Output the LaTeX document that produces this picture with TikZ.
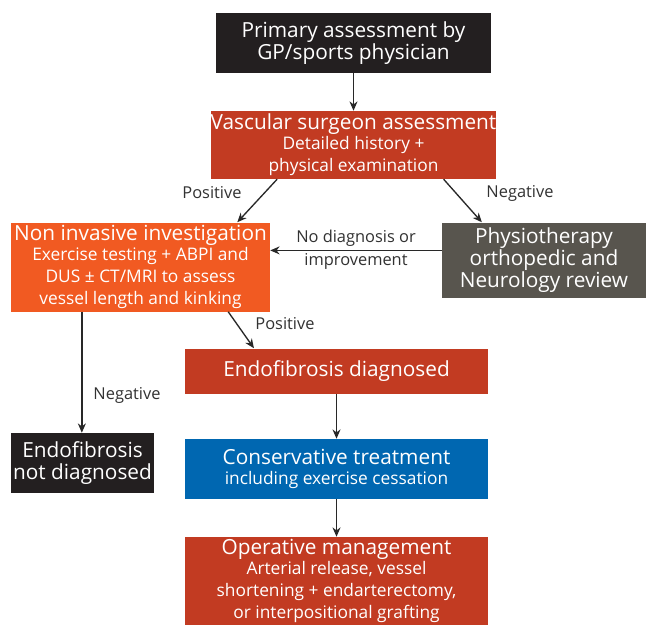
\documentclass[tikz,border=0pt]{standalone}
\usepackage{fontspec}
\setmainfont{Open Sans}
\usetikzlibrary{arrows.meta,calc}
\definecolor{boxblack}{RGB}{35,31,32}
\definecolor{boxred}{RGB}{194,59,34}
\definecolor{boxorange}{RGB}{241,90,34}
\definecolor{boxgray}{RGB}{88,85,78}
\definecolor{boxblue}{RGB}{0,103,177}
\definecolor{linegray}{RGB}{40,40,40}
\definecolor{labelgray}{RGB}{50,50,50}
\newcommand\TitleF{\fontsize{15.6}{16.5}\selectfont}
\newcommand\SubF{\fontsize{13}{13.5}\selectfont}
\newcommand\LabF{\fontsize{12.3}{17}\selectfont}
\begin{document}
\begin{tikzpicture}[x=0.75pt,y=-0.75pt,
  box/.style={rectangle, inner sep=0pt, align=center, text=white, font=\TitleF},
  conn/.style={draw=linegray, line width=1pt, -{Stealth[length=7pt,width=6pt]}},
  lab/.style={text=labelgray, font=\LabF, align=center, inner sep=0pt}]
\clip (0,0) rectangle (655,624);
\fill[white] (0,0) rectangle (655,624);
\node[box, fill=boxblack, minimum width=206.25pt, minimum height=45pt] (prim) at (353.5,43)
  {Primary assessment by\\GP/sports physician};
\node[box, fill=boxred, minimum width=206.25pt, minimum height=51pt] (vasc) at (353.5,145)
  {Vascular surgeon assessment\\[-1.5pt]\SubF Detailed history +\\\SubF physical examination};
\node[box, fill=boxorange, minimum width=194.25pt, minimum height=66.75pt] (noninv) at (140.5,267)
  {Non invasive investigation\\[-1pt]\SubF Exercise testing + ABPI and\\\SubF DUS ± CT/MRI to assess\\\SubF vessel length and kinking};
\node[box, fill=boxgray, minimum width=153pt, minimum height=56.25pt] (physio) at (544,260)
  {Physiotherapy\\orthopedic and\\Neurology review};
\node[box, fill=boxred, minimum width=227.25pt, minimum height=33.75pt] (endo) at (336.5,371)
  {Endofibrosis diagnosed};
\node[box, fill=boxblack, minimum width=107.25pt, minimum height=45pt] (notdiag) at (82.5,463)
  {Endofibrosis\\not diagnosed};
\node[box, fill=boxblue, minimum width=227.25pt, minimum height=45pt] (cons) at (336.5,469)
  {Conservative treatment\\[-1pt]\SubF including exercise cessation};
\node[box, fill=boxred, minimum width=227.25pt, minimum height=66pt] (oper) at (336.5,581)
  {Operative management\\[-1.5pt]\SubF Arterial release, vessel\\\SubF shortening + endarterectomy,\\\SubF or interpositional grafting};

\draw[conn] (prim) -- (vasc);
\draw[conn] ($(vasc.south west)!0.233!(vasc.south east)$) -- ($(noninv.north west)!0.873!(noninv.north east)$);
\draw[conn] ($(vasc.south west)!0.815!(vasc.south east)$) -- ($(physio.north west)!0.196!(physio.north east)$);
\coordinate (pl) at ($(physio.north west)!0.373!(physio.south west)$);
\draw[conn] (pl) -- (pl -| noninv.east);
\draw[conn] ($(noninv.south west)!0.838!(noninv.south east)$) -- ($(endo.north west)!0.228!(endo.north east)$);
\coordinate (nl) at ($(noninv.south west)!0.274!(noninv.south east)$);
\draw[conn] (nl) -- (nl |- notdiag.north);
\draw[conn] (endo) -- (cons);
\draw[conn] (cons) -- (oper);

\node[lab] (l1) at (212,193) {Positive};
\node[lab] (l2) at (520,193) {Negative};
\node[lab] (l3) at (356,250) {No diagnosis or\\improvement};
\node[lab] (l4) at (285,324) {Positive};
\node[lab] (l5) at (127,395) {Negative};
\end{tikzpicture}
\end{document}
